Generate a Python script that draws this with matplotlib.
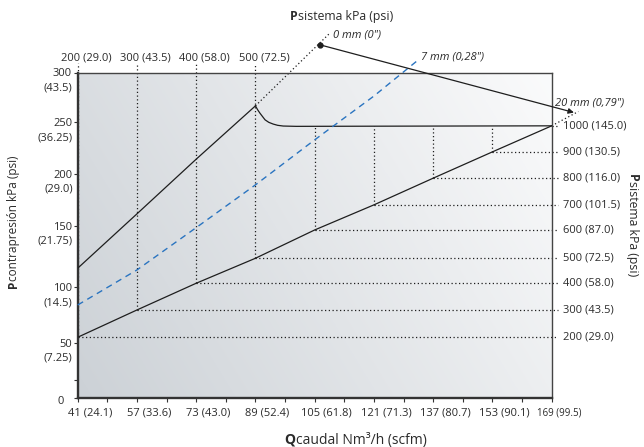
import numpy as np
import matplotlib
matplotlib.use("Agg")
import matplotlib.pyplot as plt
from matplotlib.transforms import ScaledTranslation

plt.rcParams["font.family"] = ["Open Sans", "DejaVu Sans"]

# flow axis (Nm3/h with scfm) and system pressure (kPa with psi)
flow = [41, 57, 73, 89, 105, 121, 137, 153, 169]
flow_scfm = ["24.1", "33.6", "43.0", "52.4", "61.8", "71.3", "80.7", "90.1", "99.5"]
p_sys = [200, 300, 400, 500, 600, 700, 800, 900, 1000]
p_sys_psi = ["29.0", "43.5", "58.0", "72.5", "87.0", "101.5", "116.0", "130.5", "145.0"]

# back pressure axis (kPa with psi)
back_ticks = [0, 50, 100, 150, 200, 250, 300]
back_psi = ["", "(7.25)", "(14.5)", "(21.75)", "(29.0)", "(36.25)", "(43.5)"]

# 20 mm line: back pressure at each system pressure / flow point
back_20mm = [54.9, 79.6, 103.4, 123.7, 146.7, 170.1, 195.6, 221.1, 246.4]
ext_20mm_flow = [169, 176.2]
ext_20mm_back = [246.4, 260.7]

# 0 mm line
flow_0mm = [41, 57, 73, 89]
back_0mm = [115.6, 161.5, 214.0, 266.4]
ext_0mm_flow = [89, 109.1]
ext_0mm_back = [266.4, 339.7]

# limit curve after the peak
flow_lim = [89, 89.6, 90.2, 91.0, 91.6, 92.6, 93.8, 95.0, 96.5, 100, 169]
back_lim = [266.4, 262.4, 259.1, 255.2, 252.3, 249.8, 248.1, 246.9, 246.2, 245.9, 246.4]

# 7 mm line (dashed blue)
flow_7mm = [41, 57, 73, 89, 105, 121, 133]
back_7mm = [84.1, 114.2, 148.6, 189.2, 232.8, 276.3, 312.8]

# the printed back-pressure grid is not evenly spaced
scale_h = [0, 55.3, 110.5, 172.0, 224.3, 275.7, 325.3]


def fwd(v):
    v = np.asarray(v, dtype=float)
    out = np.interp(v, back_ticks, scale_h)
    top = (scale_h[-1] - scale_h[-2]) / (back_ticks[-1] - back_ticks[-2])
    low = scale_h[1] / back_ticks[1]
    out = np.where(v > back_ticks[-1], scale_h[-1] + (v - back_ticks[-1]) * top, out)
    out = np.where(v < 0, v * low, out)
    return out


def inv(h):
    h = np.asarray(h, dtype=float)
    out = np.interp(h, scale_h, back_ticks)
    top = (scale_h[-1] - scale_h[-2]) / (back_ticks[-1] - back_ticks[-2])
    low = scale_h[1] / back_ticks[1]
    out = np.where(h > scale_h[-1], back_ticks[-1] + (h - scale_h[-1]) / top, out)
    out = np.where(h < 0, h / low, out)
    return out


W, H = 644, 447
fig = plt.figure(figsize=(W / 100, H / 100), dpi=100)
pos = [77.7 / W, 49 / H, 474 / W, 325.5 / H]

# gradient background
bg = fig.add_axes(pos, zorder=0)
xx, yy = np.meshgrid(np.linspace(0, 1, 300), np.linspace(0, 1, 300))
t = np.clip(0.72 * xx + 0.30 * yy, 0, 1)
c0 = np.array([0.80, 0.82, 0.84])
c1 = np.array([0.98, 0.982, 0.985])
bg.imshow(c0 + (c1 - c0) * t[..., None], origin="lower", extent=(0, 1, 0, 1), aspect="auto")
bg.set_axis_off()

ax = fig.add_axes(pos, zorder=1)
ax.patch.set_visible(False)
ax.set_xlim(41, 169)
ax.set_yscale("function", functions=(fwd, inv))
ax.set_ylim(0, 300)

ink = "#1e1e1e"
txt = "#2b2b2b"
dot = dict(color=ink, lw=0.9, ls=(0, (1, 2)), zorder=2, clip_on=False)

# dotted construction grid
for i, (f, b) in enumerate(zip(flow, back_20mm)):
    ax.plot([f, 170.7], [b, b], **dot)
    top = 310 if i < 4 else back_lim[-2]
    ax.plot([f, f], [b, top], **dot)
ax.plot(ext_20mm_flow, ext_20mm_back, **dot)
ax.plot(ext_0mm_flow, ext_0mm_back, **dot)

# curves
ax.plot(flow, back_20mm, color=ink, lw=0.9, zorder=3)
ax.plot(flow_0mm, back_0mm, color=ink, lw=0.9, zorder=3)
ax.plot(flow_lim, back_lim, color=ink, lw=0.9, zorder=3)
ax.plot(flow_7mm, back_7mm, color="#2a74c0", lw=1.0, ls=(0, (4.5, 3.5)), zorder=3, clip_on=False)

# arrow 0 mm -> 20 mm
ax.plot([106.4], [327.9], "o", ms=3.5, color=ink, clip_on=False, zorder=4)
ax.annotate("", xy=(175.0, 259.7), xytext=(106.4, 327.9), annotation_clip=False,
            arrowprops=dict(arrowstyle="-|>", color=ink, lw=0.9, mutation_scale=8,
                            shrinkA=0, shrinkB=0))

lab = dict(fontsize=8, style="italic", color=txt, va="center", ha="left", clip_on=False)
ax.text(109.9, 337.7, '0 mm (0")', **lab)
ax.text(133.6, 315.7, '7 mm (0,28")', **lab)
ax.text(169.9, 269.7, '20 mm (0,79")', **lab)

# spines
for s in ["left", "bottom"]:
    ax.spines[s].set_linewidth(1.7)
    ax.spines[s].set_color("#333333")
for s in ["top", "right"]:
    ax.spines[s].set_linewidth(1.0)
    ax.spines[s].set_color("#444444")

# bottom axis
ax.set_xticks(flow, labels=[f"{f} ({s})" for f, s in zip(flow, flow_scfm)])
ax.set_xticks(np.arange(49, 169, 16), minor=True)
ax.set_yticks(back_ticks, labels=[str(v) for v in back_ticks])
ax.set_yticks([16], minor=True)
ax.tick_params(which="both", direction="out", length=3, width=0.8, color="#333333",
               labelsize=8, labelcolor=txt)
ax.tick_params(axis="x", pad=4)
ax.tick_params(axis="y", pad=1)
for i, tl in enumerate(ax.get_xticklabels()):
    dx = 12 if i < len(flow) - 1 else 8
    if i == len(flow) - 1:
        tl.set_fontsize(7)
    tl.set_transform(tl.get_transform() + ScaledTranslation(dx / 100, 0, fig.dpi_scale_trans))
ylabels = ax.get_yticklabels()
ylabels[0].set_transform(ylabels[0].get_transform() + ScaledTranslation(-8 / 100, -2 / 100, fig.dpi_scale_trans))

for v, s in zip(back_ticks, back_psi):
    ax.annotate(s, xy=(0, v), xycoords=("axes fraction", "data"), xytext=(-5, -15.5),
                textcoords="offset pixels", ha="right", va="center", fontsize=8, color=txt)

# top labels
for f, p, s in zip(flow[:4], p_sys[:4], p_sys_psi[:4]):
    ax.annotate(f"{p} ({s})", xy=(f, 1), xycoords=("data", "axes fraction"), xytext=(8.5, 15),
                textcoords="offset pixels", ha="center", va="center", fontsize=8, color=txt)

# right labels
for b, p, s in zip(back_20mm, p_sys, p_sys_psi):
    ax.annotate(f"{p} ({s})", xy=(169, b), xytext=(11.5, 0), textcoords="offset pixels",
                ha="left", va="center", fontsize=8, color=txt, annotation_clip=False)


# axis titles: bold initial followed by regular text
def axis_title(cx, cy, head, rest, rotation, size=8.8):
    r = fig.canvas.get_renderer()
    kw = dict(fontsize=size, color=txt, rotation=rotation, rotation_mode="anchor",
              ha="left", va="baseline")
    th = fig.text(0, 0, head, fontweight="bold", **kw)
    tr = fig.text(0, 0, rest, **kw)
    bh, br = th.get_window_extent(r), tr.get_window_extent(r)
    if rotation == 0:
        lh, lr = bh.width, br.width
    else:
        lh, lr = bh.height, br.height
    ang = np.deg2rad(rotation)
    d = np.array([np.cos(ang), np.sin(ang)])
    n = np.array([-d[1], d[0]])
    start = np.array([cx, H - cy]) - d * (lh + lr) / 2 - n * size * 100 / 72 * 0.36
    p2 = start + d * lh
    th.set_position((start[0] / W, start[1] / H))
    tr.set_position((p2[0] / W, p2[1] / H))


axis_title(341.7, 16, "P", "sistema kPa (psi)", 0)
axis_title(355.5, 439, "Q", "caudal Nm³/h (scfm)", 0, size=10)
axis_title(13, 222, "P", "contrapresión kPa (psi)", 90, size=8.5)
axis_title(633, 225, "P", "sistema kPa (psi)", -90)

fig.savefig("out.png", dpi=100)
